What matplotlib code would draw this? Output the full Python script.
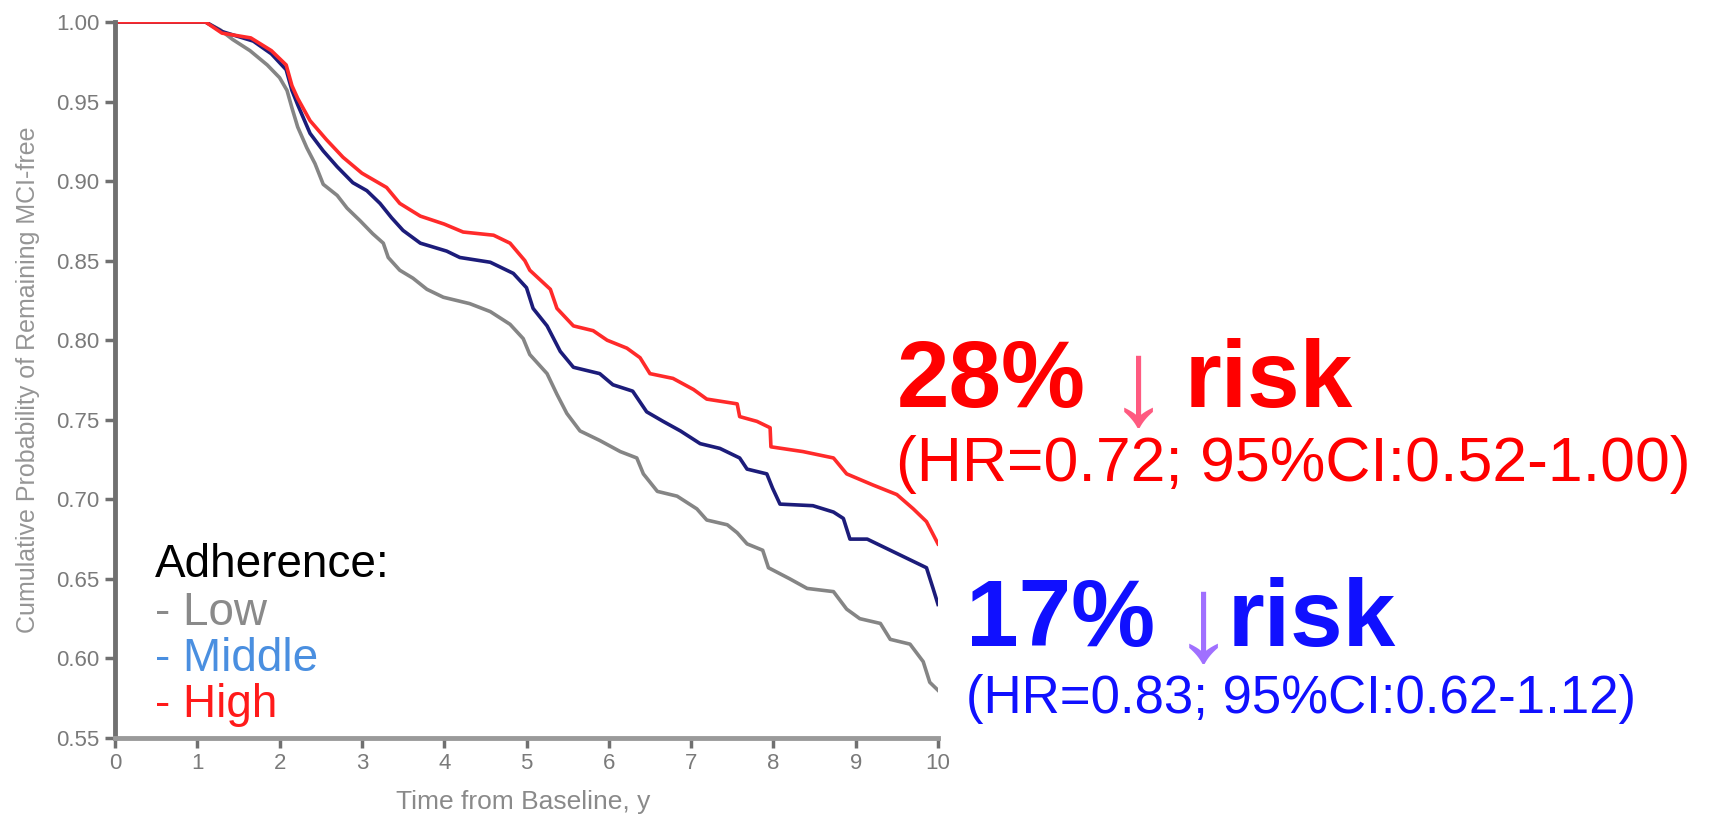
import matplotlib
matplotlib.use("Agg")
import matplotlib.pyplot as plt

plt.rcParams['font.family'] = ['Liberation Sans', 'DejaVu Sans']

# Kaplan-Meier style curves, one per adherence group
t_low = [0, 1.1, 1.28, 1.43, 1.64, 1.85, 2.0, 2.09, 2.15, 2.22, 2.33, 2.43, 2.53, 2.7, 2.82, 2.98,
         3.13, 3.26, 3.32, 3.46, 3.62, 3.79, 3.99, 4.31, 4.56, 4.8, 4.96, 5.04, 5.25, 5.37, 5.49,
         5.65, 5.89, 6.14, 6.34, 6.42, 6.59, 6.83, 7.07, 7.19, 7.44, 7.56, 7.68, 7.87, 7.94, 8.2,
         8.41, 8.73, 8.89, 9.05, 9.3, 9.42, 9.66, 9.82, 9.9, 10.0]
s_low = [1.0, 1.0, 0.995, 0.989, 0.982, 0.973, 0.965, 0.957, 0.946, 0.934, 0.921, 0.911, 0.898,
         0.891, 0.883, 0.875, 0.867, 0.861, 0.852, 0.844, 0.839, 0.832, 0.827, 0.823, 0.818, 0.81,
         0.801, 0.791, 0.779, 0.766, 0.754, 0.743, 0.737, 0.730, 0.726, 0.716, 0.705, 0.702, 0.694,
         0.687, 0.684, 0.679, 0.672, 0.668, 0.657, 0.65, 0.644, 0.642, 0.631, 0.625, 0.622, 0.612,
         0.609, 0.598, 0.585, 0.58]

t_mid = [0, 1.1, 1.3, 1.68, 1.9, 2.08, 2.15, 2.22, 2.37, 2.53, 2.7, 2.89, 3.06, 3.22, 3.36, 3.5,
         3.71, 4.03, 4.19, 4.56, 4.84, 5.0, 5.08, 5.25, 5.41, 5.57, 5.89, 6.05, 6.29, 6.46, 6.66,
         6.87, 7.11, 7.35, 7.59, 7.68, 7.92, 7.99, 8.08, 8.48, 8.73, 8.85, 8.93, 9.14, 9.42, 9.66,
         9.86, 9.94, 10.0]
s_mid = [1.0, 1.0, 0.994, 0.988, 0.98, 0.97, 0.957, 0.948, 0.930, 0.919, 0.909, 0.899, 0.894,
         0.886, 0.877, 0.869, 0.861, 0.856, 0.852, 0.849, 0.842, 0.833, 0.82, 0.809, 0.793, 0.783,
         0.779, 0.772, 0.768, 0.755, 0.749, 0.743, 0.735, 0.732, 0.726, 0.719, 0.716, 0.707, 0.697,
         0.696, 0.692, 0.688, 0.675, 0.675, 0.668, 0.662, 0.657, 0.644, 0.634]

t_high = [0, 1.1, 1.3, 1.65, 1.9, 2.08, 2.15, 2.22, 2.37, 2.57, 2.77, 3.0, 3.3, 3.46, 3.71, 4.0,
          4.23, 4.6, 4.8, 4.98, 5.04, 5.29, 5.37, 5.57, 5.81, 5.98, 6.22, 6.38, 6.5, 6.78, 7.03,
          7.19, 7.56, 7.59, 7.8, 7.96, 7.97, 8.36, 8.73, 8.89, 9.21, 9.5, 9.7, 9.86, 10.0]
s_high = [1.0, 1.0, 0.993, 0.99, 0.982, 0.973, 0.96, 0.952, 0.938, 0.926, 0.915, 0.905, 0.896,
          0.886, 0.878, 0.873, 0.868, 0.866, 0.861, 0.85, 0.844, 0.832, 0.82, 0.809, 0.806, 0.80,
          0.795, 0.789, 0.779, 0.776, 0.769, 0.763, 0.760, 0.752, 0.749, 0.745, 0.733, 0.730,
          0.726, 0.716, 0.709, 0.703, 0.694, 0.686, 0.672]

x_ticks = list(range(0, 11))
y_ticks = [0.55, 0.60, 0.65, 0.70, 0.75, 0.80, 0.85, 0.90, 0.95, 1.00]

groups = ["Low", "Middle", "High"]
group_colors = ["#8a8a8a", "#4a8fe0", "#ff1a1a"]

W, H = 1717, 819
fig = plt.figure(figsize=(W / 100, H / 100), dpi=100)
ax = fig.add_axes([115 / W, 1 - 738 / H, 823 / W, 716 / H])

ax.plot(t_low, s_low, color="#858585", lw=2.6)
ax.plot(t_mid, s_mid, color="#1c1c7a", lw=2.6)
ax.plot(t_high, s_high, color="#ff2a2a", lw=2.6)

ax.set_xlim(0, 10)
ax.set_ylim(0.55, 1.0)
ax.set_xticks(x_ticks)
ax.set_yticks(y_ticks)
ax.set_yticklabels([f"{v:.2f}" for v in y_ticks])
ax.spines[['top', 'right']].set_visible(False)
ax.spines['left'].set_color("#707070")
ax.spines['left'].set_linewidth(3.5)
ax.spines['bottom'].set_color("#9a9a9a")
ax.spines['bottom'].set_linewidth(3.5)
ax.tick_params(colors="#707070", labelcolor="#7a7a7a", labelsize=16, length=7, width=2.5, pad=4)

ax.set_xlabel("Time from Baseline, y", fontsize=19, color="#8a8a8a")
ax.xaxis.set_label_coords(0.496, -0.073)
ax.set_ylabel("Cumulative Probability of Remaining MCI-free", fontsize=18, color="#959595")
ax.yaxis.set_label_coords(-0.091, 0.5)


def ftext(px, py, s, **kw):
    fig.text(px / W, 1 - py / H, s, va="baseline", **kw)


# legend block
ftext(155, 577, "Adherence:", fontsize=33, color="black")
for i, (name, col) in enumerate(zip(groups, group_colors)):
    ftext(155, 625 + i * 46, "- " + name, fontsize=33, color=col)

# hazard ratio call-outs
ftext(897, 407, "28%", fontsize=68, weight="bold", color="#ff0000")
ftext(1138, 424, "↓", fontsize=88, color="#ff5a80", ha="center")
ftext(1185, 407, "risk", fontsize=68, weight="bold", color="#ff0000")
ftext(896, 481, "(HR=0.72; 95%CI:0.52-1.00)", fontsize=45, color="#ff0000")

ftext(966, 646, "17%", fontsize=68, weight="bold", color="#1010ff")
ftext(1203, 660, "↓", fontsize=88, color="#a070ff", ha="center")
ftext(1228, 646, "risk", fontsize=68, weight="bold", color="#1010ff")
ftext(966, 713, "(HR=0.83; 95%CI:0.62-1.12)", fontsize=38, color="#1010ff")

fig.savefig("out.png", dpi=100)
